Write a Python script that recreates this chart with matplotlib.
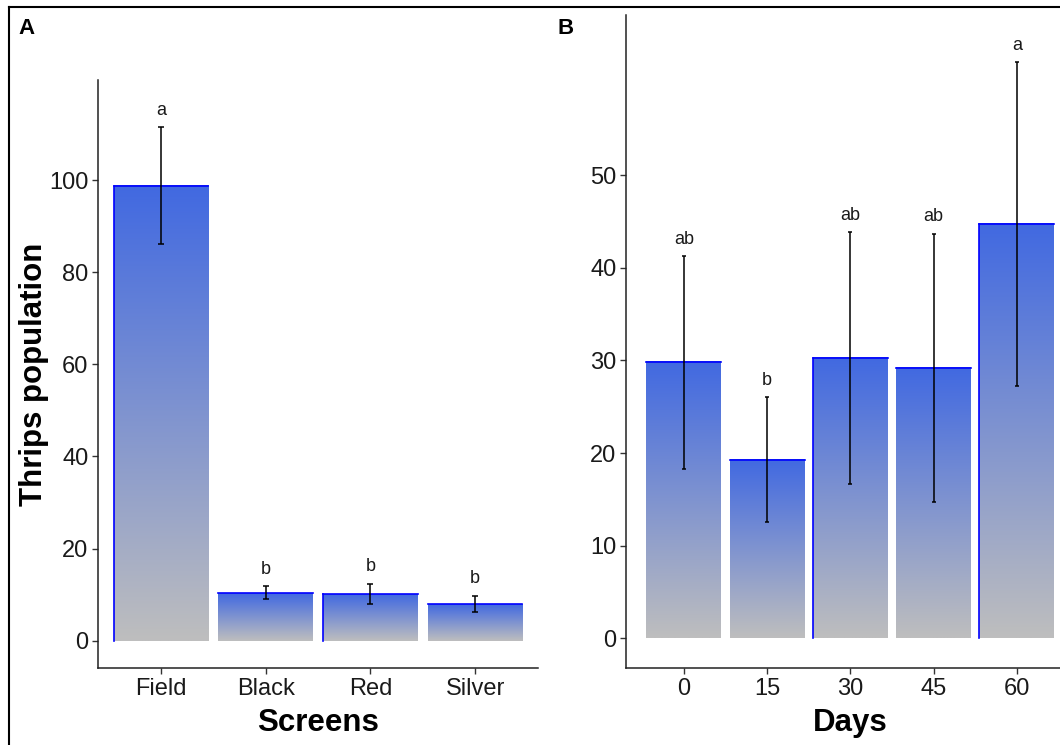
import numpy as np
import matplotlib
matplotlib.use("Agg")
import matplotlib.pyplot as plt
from matplotlib.colors import LinearSegmentedColormap
from matplotlib.lines import Line2D

plt.rcParams['font.family'] = ['Liberation Sans', 'DejaVu Sans']

# panel A: screens
screens = ["Field", "Black", "Red", "Silver"]
screen_means = [98.8, 10.4, 10.2, 8.0]
screen_se = [12.6, 1.4, 2.2, 1.8]
screen_letters = ["a", "b", "b", "b"]
screen_left_edge = [True, False, True, False]

# panel B: days
days = [0, 15, 30, 45, 60]
day_means = [29.8, 19.3, 30.3, 29.2, 44.7]
day_se = [11.5, 6.75, 13.6, 14.5, 17.5]
day_letters = ["ab", "b", "ab", "ab", "a"]
day_left_edge = [False, False, True, False, True]

cmap = LinearSegmentedColormap.from_list("grad", ["#bebebe", "#4169e1"])
grad = np.linspace(0, 1, 256).reshape(-1, 1)


def gradient_bars(ax, xs, heights, width, left_edge):
    for x, h, le in zip(xs, heights, left_edge):
        x0, x1 = x - width / 2, x + width / 2
        ax.imshow(grad, cmap=cmap, origin="lower", aspect="auto",
                  extent=(x0, x1, 0, h), interpolation="bilinear", zorder=1)
        ax.plot([x0, x1], [h, h], color="#0000ff", lw=1.2, zorder=2)
        if le:
            ax.plot([x0, x0], [0, h], color="#0000ff", lw=1.2, zorder=2)


def style_axis(ax):
    for s in ["top", "right"]:
        ax.spines[s].set_visible(False)
    for s in ["left", "bottom"]:
        ax.spines[s].set_linewidth(1.1)
        ax.spines[s].set_color("#222222")
    ax.tick_params(axis="both", length=4, width=1, color="#333333",
                   labelsize=17, labelcolor="#1a1a1a", pad=3)


fig = plt.figure(figsize=(10.6, 7.45), dpi=100)

# panel A
axA = fig.add_axes([0.0925, 0.1034, 0.415, 0.7892])
xa = np.arange(1, len(screens) + 1)
gradient_bars(axA, xa, screen_means, 0.9, screen_left_edge)
axA.errorbar(xa, screen_means, yerr=screen_se, fmt="none", ecolor="black",
             elinewidth=1.1, capsize=2.5, capthick=1.1, zorder=3)
for x, m, s, lab in zip(xa, screen_means, screen_se, screen_letters):
    axA.annotate(lab, (x, m + s), xytext=(0, 12), textcoords="offset points",
                 ha="center", va="center", fontsize=13, color="#1a1a1a")
axA.set_xlim(0.4, 4.6)
axA.set_ylim(-5.9, 121.7)
axA.set_yticks([0, 20, 40, 60, 80, 100])
axA.set_xticks(xa)
axA.set_xticklabels(screens)
axA.set_xlabel("Screens", fontsize=22.5, fontweight="bold", labelpad=6)
axA.set_ylabel("Thrips population", fontsize=22.5, fontweight="bold")
axA.yaxis.set_label_coords(-0.111, 0.5)
style_axis(axA)

# panel B
axB = fig.add_axes([0.5906, 0.1034, 0.4232, 0.8765])
gradient_bars(axB, days, day_means, 13.5, day_left_edge)
axB.errorbar(days, day_means, yerr=day_se, fmt="none", ecolor="black",
             elinewidth=1.1, capsize=1.5, capthick=1.1, zorder=3)
for x, m, s, lab in zip(days, day_means, day_se, day_letters):
    axB.annotate(lab, (x, m + s), xytext=(0, 12), textcoords="offset points",
                 ha="center", va="center", fontsize=13, color="#1a1a1a")
axB.set_xlim(-10.4, 70.4)
axB.set_ylim(-3.2, 67.3)
axB.set_yticks([0, 10, 20, 30, 40, 50])
axB.set_xticks(days)
axB.set_xlabel("Days", fontsize=22.5, fontweight="bold", labelpad=6)
style_axis(axB)

fig.text(0.017, 0.962, "A", fontsize=16, fontweight="bold", va="center")
fig.text(0.526, 0.962, "B", fontsize=16, fontweight="bold", va="center")

# screenshot frame (left and top edges)
fig.add_artist(Line2D([0.0085, 0.0085], [0, 0.9906], color="black", lw=1.5,
                      transform=fig.transFigure))
fig.add_artist(Line2D([0.0085, 1], [0.9906, 0.9906], color="black", lw=1.5,
                      transform=fig.transFigure))

fig.savefig("out.png", dpi=100)
